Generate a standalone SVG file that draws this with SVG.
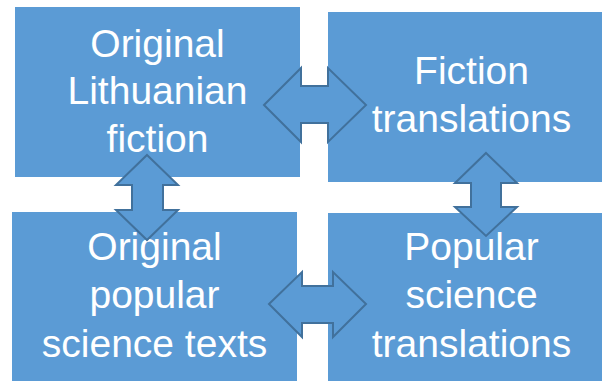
<svg xmlns="http://www.w3.org/2000/svg" width="602" height="381" viewBox="0 0 602 381">
<style>
.box{fill:#5b9bd5}
.lbl{fill:#ffffff;font-family:"Liberation Sans",Arial,sans-serif;font-size:39px;text-anchor:middle}
.arr{fill:#5b9bd5;stroke:#41719c;stroke-width:2;stroke-linejoin:miter}
</style>
<rect width="602" height="381" fill="#ffffff"/>
<g id="n1"><rect class="box" x="15" y="7" width="285" height="170"/>
<text class="lbl" x="157.5" y="57">Original</text>
<text class="lbl" x="157.5" y="104">Lithuanian</text>
<text class="lbl" x="157.5" y="152">fiction</text></g>
<g id="n2"><rect class="box" x="328" y="12" width="287" height="170"/>
<text class="lbl" x="471.5" y="84">Fiction</text>
<text class="lbl" x="471.5" y="132">translations</text></g>
<g id="n3"><rect class="box" x="12" y="212" width="285" height="172"/>
<text class="lbl" x="154.5" y="260">Original</text>
<text class="lbl" x="154.5" y="308">popular</text>
<text class="lbl" x="154.5" y="357">science texts</text></g>
<g id="n4"><rect class="box" x="328" y="213" width="287" height="172"/>
<text class="lbl" x="471.5" y="260">Popular</text>
<text class="lbl" x="471.5" y="308">science</text>
<text class="lbl" x="471.5" y="357">translations</text></g>
<g id="connectors">
<polygon class="arr" points="264,105 301,68 301,86 328,86 328,68 366,105 328,142 328,123 301,123 301,142"/>
<polygon class="arr" points="269,304 302,272 302,286 333,286 333,272 366,304 333,337 333,323 302,323 302,337"/>
<polygon class="arr" points="147,155 178,185 163,185 163,210 178,210 147,240 116,210 132,210 132,185 116,185"/>
<polygon class="arr" points="486,153 517,183 501,183 501,207 517,207 486,236 455,207 471,207 471,183 455,183"/>
</g>
</svg>
